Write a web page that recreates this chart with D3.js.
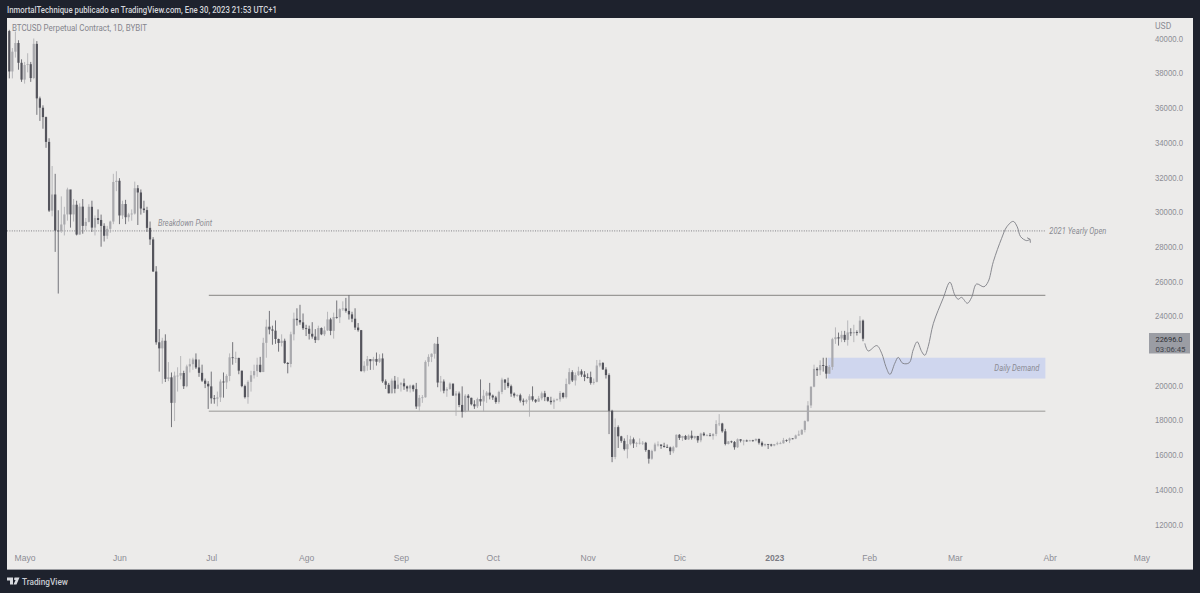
<!DOCTYPE html>
<html>
<head>
<meta charset="utf-8">
<script src="https://cdn.jsdelivr.net/npm/d3@7"></script>
<style>
  html, body { margin: 0; padding: 0; background: #1e222d; overflow: hidden; }
  svg { display: block; font-family: Roboto, sans-serif; }
  .candle-up { stroke: #a9a9ad; fill: #a9a9ad; }
  .candle-down { stroke: #54545c; fill: #54545c; }
  .note { font-style: italic; font-size: 8.2px; fill: #8b8b93; }
  .axis text { fill: #8d8d95; font-size: 8.6px; }
</style>
</head>
<body>
<svg id="chart" width="1200" height="593"></svg>
<script>
// Candles run daily from 26 Apr 2022 to 30 Jan 2023, one line per month
const firstOpen = 40430;
const closes = [
  38100,39240,39740,38600,37630,
  38470,38520,37720,39690,36550,36010,35470,34040,30080,31010,28930,28900,29280,29860,31300,29860,30420,28700,30310,29200,29430,30300,29100,29650,29540,29200,28630,29030,29450,31730,31800,
  29800,30460,29700,29860,29910,31370,31125,30200,30110,29085,28420,26570,22490,22140,22580,20380,20470,19000,20570,20570,20720,19960,21100,21230,21500,21040,20730,20280,20100,19950,
  19260,19240,19315,20230,20175,20550,21625,21590,21590,20855,19965,19330,20210,20590,20830,21195,20780,22460,23390,23230,23160,22680,22450,22580,21300,21240,22950,23850,23770,23640,23300,
  23270,22980,22820,22620,23310,22950,23175,23810,23150,23950,23930,24400,24440,24300,24100,23850,23340,23190,20830,21140,21520,21400,21530,21370,21560,20240,20040,19550,20280,19810,20050,
  20130,19950,19830,20000,19790,18790,19290,19320,21360,21650,21830,22400,20170,20230,19700,19800,20110,19420,19540,18880,18490,19410,19290,18920,18800,19220,19080,19410,19590,19420,
  19310,19050,19630,20340,20160,19960,19530,19420,19440,19130,19060,19155,19380,19180,19070,19260,19550,19330,19120,19040,19160,19205,19570,19330,20090,20770,20290,20600,20820,20630,20490,
  20480,20150,20210,21150,21300,20925,20600,18540,15880,17600,17070,16810,16330,16620,16900,16660,16690,16700,16700,16280,15780,16230,16600,16600,16520,16460,16430,16210,16440,17160,
  16980,17090,16890,17110,16970,17090,16840,17230,17130,17130,17085,17210,17780,17810,17360,16630,16780,16740,16440,16900,16820,16830,16780,16840,16830,16920,16700,16550,16630,16600,16540,
  16620,16670,16670,16850,16830,16950,16940,17120,17180,17440,17950,18850,19930,20960,20880,21180,21130,20680,21070,22670,22780,22710,22920,22630,23060,23010,23080,23030,23740,22696
];
const highs = [
  40500,39450,40400,39900,38800,
  38650,39150,38650,40000,39850,36650,36150,35500,34250,32650,32200,30100,30900,30300,31400,31250,30750,30650,30500,30750,29650,30450,30650,29800,30150,29850,29350,29200,29500,32200,32350,
  31950,30650,30700,29950,30150,31750,31550,31300,30650,30300,29450,28550,26880,23250,22750,22950,21350,20750,20800,21050,21700,20850,21200,21550,21600,21850,21500,21200,20400,20250,
  20800,19450,19650,20350,20750,20650,21850,22500,21950,21600,20850,20050,20300,20850,21200,21600,21650,22750,23800,24300,23450,23750,22700,22950,22700,21350,23100,24200,24450,24650,24150,
  23500,23450,23650,23250,23450,23350,23400,24250,23900,24200,24900,24450,24850,25050,25200,24250,24450,23600,23200,21400,21700,21500,21650,21900,21800,21850,20350,20150,20400,20550,20480,
  20200,20400,20000,20050,20050,20150,19450,19450,21450,21800,21850,22450,22800,20550,20350,19900,20180,20100,19680,19650,19950,19500,19500,19300,19150,19300,20350,19750,19680,20150,
  19480,19400,19700,20450,20370,20450,20050,19600,19500,19530,19250,19230,19500,19950,19220,19400,19650,19690,19350,19350,19250,19250,19680,19600,20400,21000,20880,20750,21080,20930,20830,
  20700,20800,20400,21470,21480,21350,21050,20700,18600,18100,17700,17100,16950,17150,17100,17000,16750,16950,16800,16750,16300,16300,16700,16780,16580,16700,16600,16480,16520,17180,
  17200,17100,17150,17180,17400,17100,17100,17280,17320,17200,17260,17240,18000,18350,17850,17500,16800,16820,16800,16950,16900,16870,16880,16870,16870,16950,16940,16780,16650,16620,16640,
  16630,16760,16760,16980,16890,17000,16960,17170,17400,17480,17990,19100,19950,21200,21050,21450,21600,21600,21180,22750,23350,23050,23150,23150,23750,23300,23500,23180,24000,23800
];
const lows = [
  37700,37700,38900,38200,37500,
  37400,38050,37500,37650,35600,35250,34800,33700,30000,29750,27700,25300,28800,28650,29500,29100,29450,28650,28700,28750,28950,29400,28850,28650,29300,28000,28300,28450,28800,29300,31200,
  29300,29600,29300,29450,29500,29850,29250,29850,29950,28850,28100,26550,22350,20800,20100,20200,20250,17600,17950,19650,20350,19800,19900,20750,20900,20950,20500,20200,19850,18650,
  18950,18950,18800,19050,19300,19800,20250,21200,21300,20650,19900,19250,18950,19650,20400,20500,20750,20770,21600,22950,22350,22400,21950,22250,21250,20700,21050,22600,23450,23500,23200,
  22850,22650,22700,22450,22600,22900,22850,23150,22900,22700,23850,23600,24300,24200,23800,23650,23200,23100,20800,20750,20850,20900,20900,21150,21300,20150,19800,19550,19550,19550,19850,
  19650,19750,19650,19600,19650,18650,18550,19000,19300,21100,21350,21550,19900,19650,19550,19350,19750,19400,18250,18750,18150,18450,18550,18850,18650,18700,18830,18500,19000,19200,
  19170,18950,18950,19500,19750,19850,19350,19300,19350,19020,18850,18950,18200,19080,19000,19050,19150,19100,19060,18900,18650,19120,19070,19250,19250,20050,20200,20000,20550,20500,20250,
  20400,20050,20050,20180,21050,20900,20400,17200,15580,15750,16400,16700,16250,15800,16550,16400,16450,16600,16570,16180,15500,15720,16180,16480,16350,16420,16400,16000,16100,16420,
  16860,16800,16860,16870,16880,16900,16700,16730,17080,17090,17070,16880,17080,17660,17280,16550,16600,16680,16300,16400,16720,16550,16760,16800,16760,16780,16600,16470,16490,16340,16480,
  16500,16560,16620,16650,16750,16680,16900,16910,17100,17150,17300,17900,18700,19900,20550,20600,20800,20400,20680,20900,22400,22300,22500,22500,22300,22850,22500,22880,23000,22550
];

// Hand drawn projection after the last candle: days since 1 May 2022 and price
const projectionDays = [274.6,275.7,278.5,280.1,281.5,282.8,284.4,285.5,287,289.1,290.4,291.7,293.2,294.2,295.3,297,300.2,302.4,304,305.1,306.2,308.1,309.5,311.1,313.5,314.9,316.6,319.3,321,323.1,324.4,325.5,327.5,328.6];
const projectionPrices = [22430,21990,22300,21860,21080,20640,21280,21620,21280,21310,22050,22520,21950,21740,22240,23580,25030,25950,25220,24970,25080,24740,25080,25850,25690,25980,27140,28480,29150,29460,29150,28580,28350,28430];

// Axis values (22000 sits under the last price tag, so it is not shown)
const priceTicks = [12000,14000,16000,18000,20000,24000,26000,28000,30000,32000,34000,36000,38000,40000];
const monthDays = [0,31,61,92,123,153,184,214,245,276,304,335,365];
const monthLabels = ["Mayo","Jun","Jul","Ago","Sep","Oct","Nov","Dic","2023","Feb","Mar","Abr","May"];

// Drawn levels
const yearlyOpen = 28910;
const rangeHigh = 25200;
const rangeLow = 18520;
const demandTop = 21600;
const demandBottom = 20400;
const levelStartDay = 60.2;
const demandStartDay = 262.5;
const levelEndDay = 333.6;
const lastPrice = 22696;

const svg = d3.select("#chart");

// Set up the plot box
const plot = { left: 7, right: 1193, top: 18, bottom: 569 };

svg.append("rect").attr("width", 1200).attr("height", 593).attr("fill", "#1e222d");
svg
  .append("rect")
  .attr("x", plot.left)
  .attr("y", plot.top)
  .attr("width", plot.right - plot.left)
  .attr("height", plot.bottom - plot.top)
  .attr("fill", "#ecebea");
svg
  .append("line")
  .attr("x1", plot.left)
  .attr("x2", plot.right)
  .attr("y1", plot.bottom + 0.5)
  .attr("y2", plot.bottom + 0.5)
  .attr("stroke", "#9a9ba0");

// Squeeze a text to the width it has in the picture
function fit(selection, width) {
  selection.attr("textLength", width).attr("lengthAdjust", "spacingAndGlyphs");
}

// Scales: x is days since 1 May 2022
const xScale = d3.scaleLinear().domain([0, 274]).range([24.6, 863]);
const yScale = d3.scaleLinear().domain([12000, 40000]).range([524.3, 38.5]);

// Price axis on the right
const yAxis = svg
  .append("g")
  .attr("class", "axis")
  .attr("transform", "translate(1155,0)")
  .call(
    d3.axisRight(yScale)
      .tickValues(priceTicks)
      .tickSize(0)
      .tickPadding(0)
      .tickFormat((d) => d3.format(".1f")(d))
  );
yAxis.select(".domain").remove();
yAxis.selectAll("text").call(fit, 28);

// Month axis along the bottom
const xAxis = svg
  .append("g")
  .attr("class", "axis")
  .attr("transform", "translate(0,555)")
  .call(
    d3.axisBottom(xScale)
      .tickValues(monthDays)
      .tickSize(0)
      .tickPadding(0)
      .tickFormat((d, i) => monthLabels[i])
  );
xAxis.select(".domain").remove();
xAxis
  .selectAll("text")
  .filter((d, i) => monthLabels[i] === "2023")
  .style("font-weight", "bold")
  .style("fill", "#7c7c84");

// Demand zone
svg
  .append("rect")
  .attr("x", xScale(demandStartDay))
  .attr("width", xScale(levelEndDay) - xScale(demandStartDay))
  .attr("y", yScale(demandTop))
  .attr("height", yScale(demandBottom) - yScale(demandTop))
  .attr("fill", "#cfd6ee");

// Range lines
[rangeHigh, rangeLow].forEach((level, i) => {
  svg
    .append("line")
    .attr("x1", xScale(levelStartDay))
    .attr("x2", xScale(levelEndDay))
    .attr("y1", yScale(level))
    .attr("y2", yScale(level))
    .attr("stroke", i === 0 ? "#9a9997" : "#8f8e8c")
    .attr("stroke-width", i === 0 ? 1.2 : 0.9);
});

// 2021 yearly open
svg
  .append("line")
  .attr("x1", plot.left)
  .attr("x2", xScale(levelEndDay))
  .attr("y1", yScale(yearlyOpen))
  .attr("y2", yScale(yearlyOpen))
  .attr("stroke", "#66666c")
  .attr("stroke-width", 0.8)
  .attr("stroke-dasharray", "1,1.4");

// Candles
const candles = closes.map((close, i) => ({
  day: i - 5,
  open: i === 0 ? firstOpen : closes[i - 1],
  high: highs[i],
  low: lows[i],
  close: close,
}));

const candle = svg
  .append("g")
  .selectAll("g")
  .data(candles)
  .join("g")
  .attr("class", (d) => (d.close >= d.open ? "candle-up" : "candle-down"));

candle
  .append("line")
  .attr("x1", (d) => xScale(d.day))
  .attr("x2", (d) => xScale(d.day))
  .attr("y1", (d) => yScale(d.high))
  .attr("y2", (d) => yScale(d.low))
  .attr("stroke-width", 0.8);

candle
  .append("rect")
  .attr("x", (d) => xScale(d.day) - 1.1)
  .attr("width", 2.2)
  .attr("y", (d) => yScale(Math.max(d.open, d.close)))
  .attr("height", (d) => Math.max(0.8, Math.abs(yScale(d.open) - yScale(d.close))))
  .attr("stroke", "none");

// Projected path
const projection = projectionDays.map((day, i) => [day, projectionPrices[i]]);
const projectionLine = d3
  .line()
  .x((d) => xScale(d[0]))
  .y((d) => yScale(d[1]))
  .curve(d3.curveCatmullRom);

svg
  .append("path")
  .datum(projection)
  .attr("d", projectionLine)
  .attr("fill", "none")
  .attr("stroke", "#7d7e85")
  .attr("stroke-width", 0.9);

// Little arrow head on the end of the projection
const tip = projection[projection.length - 1];
svg
  .append("path")
  .attr("transform", `translate(${xScale(tip[0])},${yScale(tip[1])})`)
  .attr("d", "M-3,-1.5L0,0L0.3,3.5")
  .attr("fill", "none")
  .attr("stroke", "#7d7e85")
  .attr("stroke-width", 0.9);

// Notes on the chart
svg.append("text").attr("class", "note").attr("x", 158).attr("y", yScale(yearlyOpen) - 4.5).text("Breakdown Point").call(fit, 54);
svg.append("text").attr("class", "note").attr("x", xScale(levelEndDay) + 4).attr("y", yScale(yearlyOpen) + 3).text("2021 Yearly Open").call(fit, 57);
svg
  .append("text")
  .attr("class", "note")
  .attr("x", xScale(levelEndDay) - 51)
  .attr("y", yScale((demandTop + demandBottom) / 2) + 3)
  .text("Daily Demand")
  .call(fit, 45);

// Last price tag
svg.append("rect").attr("x", 1149).attr("y", 333).attr("width", 41).attr("height", 20.5).attr("fill", "#9b9da4");
svg.append("text").attr("x", 1155.5).attr("y", 341.5).attr("font-size", 8).attr("fill", "#2b2d33").text(d3.format(".1f")(lastPrice)).call(fit, 27);
svg.append("text").attr("x", 1155.5).attr("y", 351.5).attr("font-size", 8).attr("fill", "#44464d").text("03:06:45").call(fit, 30);

// Headers
svg.append("text").attr("x", 1155).attr("y", 29).attr("font-size", 8.6).attr("fill", "#8d8d95").text("USD");
svg.append("text").attr("x", 7).attr("y", 12.8).attr("font-size", 9).attr("font-weight", 500).attr("fill", "#d4d6db").text("InmortalTechnique publicado en TradingView.com, Ene 30, 2023 21:53 UTC+1").call(fit, 270);
svg.append("text").attr("x", 12).attr("y", 30.5).attr("font-size", 8.8).attr("fill", "#85858d").text("BTCUSD Perpetual Contract, 1D, BYBIT").call(fit, 135);

// TradingView footer
svg.append("path").attr("d", "M7,577.5H13V584.5H10V580.5H7ZM14.5,577.5H19.5L16.5,584.5H13.5L15.6,580H14.5Z").attr("fill", "#d9dbe0");
svg.append("circle").attr("cx", 15.3).attr("cy", 579).attr("r", 1.1).attr("fill", "#d9dbe0");
svg.append("text").attr("x", 22).attr("y", 584.5).attr("font-size", 9.2).attr("font-weight", 500).attr("fill", "#c9ccd2").text("TradingView").call(fit, 46);
</script>
</body>
</html>
